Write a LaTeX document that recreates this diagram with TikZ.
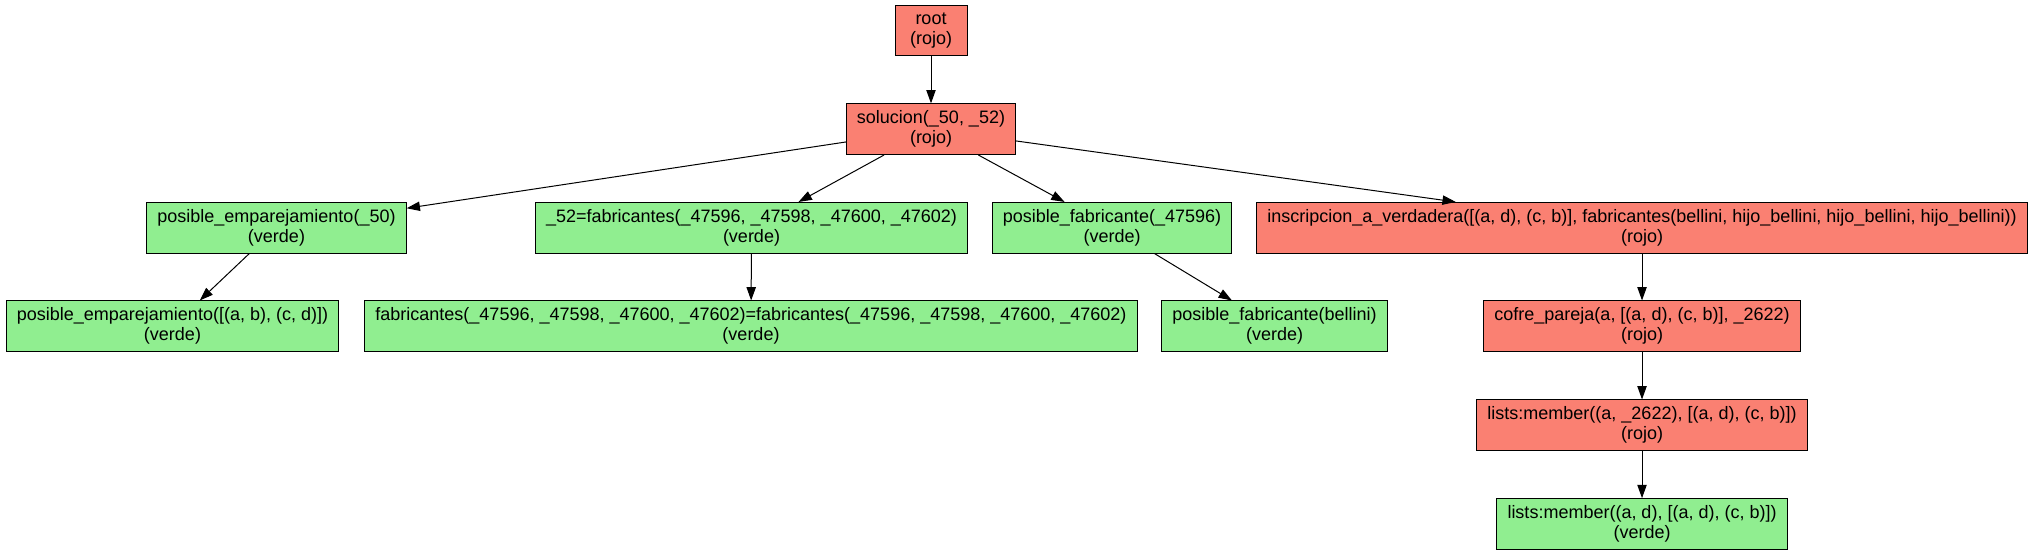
\documentclass[tikz,border=0pt]{standalone}
\usepackage{fontspec}
\setmainfont{Liberation Sans}
\usepackage{xcolor}
\usepackage{tikz}
\usetikzlibrary{arrows.meta}
\definecolor{rojosalmon}{RGB}{250,128,114}
\definecolor{verdeluz}{RGB}{144,238,144}
\tikzset{
  caja/.style={rectangle,draw=black,line width=0.75pt,minimum width=54pt,
    minimum height=38pt,inner xsep=7.9pt,inner ysep=2pt,align=center,
    font=\fontsize{13.5}{15}\selectfont},
  rojo/.style={caja,fill=rojosalmon},
  verde/.style={caja,fill=verdeluz},
  flecha/.style={-{Triangle[length=10pt,width=7pt]},line width=0.75pt,black}
}
\begin{document}
\begin{tikzpicture}[x=0.75pt,y=-0.75pt]
\useasboundingbox (0,0) rectangle (2033,555);
% nivel 0 y 1
\node[rojo] (raiz) at (931,30.5) {root\\(rojo)};
\node[rojo] (solucion) at (931,129.2) {solucion(\_50, \_52)\\(rojo)};
% nivel 2
\node[verde] (posemp) at (276.5,227.8) {posible\_emparejamiento(\_50)\\(verde)};
\node[verde] (fab) at (751.5,227.8) {\_52=fabricantes(\_47596, \_47598, \_47600, \_47602)\\(verde)};
\node[verde] (posfab) at (1112,227.8) {posible\_fabricante(\_47596)\\(verde)};
\node[rojo] (inscr) at (1642,227.8) {inscripcion\_a\_verdadera([(a, d), (c, b)], fabricantes(bellini, hijo\_bellini, hijo\_bellini, hijo\_bellini))\\(rojo)};
% nivel 3
\node[verde] (posempab) at (172.5,326.3) {posible\_emparejamiento([(a, b), (c, d)])\\(verde)};
\node[verde] (fabigual) at (751,326.3) {fabricantes(\_47596, \_47598, \_47600, \_47602)=fabricantes(\_47596, \_47598, \_47600, \_47602)\\(verde)};
\node[verde] (posfabbel) at (1274.5,326.3) {posible\_fabricante(bellini)\\(verde)};
\node[rojo] (cofre) at (1642,326.3) {cofre\_pareja(a, [(a, d), (c, b)], \_2622)\\(rojo)};
% niveles 4 y 5
\node[rojo] (miembro) at (1642,425.3) {lists:member((a, \_2622), [(a, d), (c, b)])\\(rojo)};
\node[verde] (miembrook) at (1642,524) {lists:member((a, d), [(a, d), (c, b)])\\(verde)};
% aristas
\draw[flecha] (raiz) -- (solucion);
\draw[flecha] (solucion) -- (posemp);
\draw[flecha] (solucion) -- (fab);
\draw[flecha] (solucion) -- (posfab);
\draw[flecha] (solucion) -- (inscr);
\draw[flecha] (posemp) -- (posempab);
\draw[flecha] (fab) -- (fabigual);
\draw[flecha] (posfab) -- (posfabbel);
\draw[flecha] (inscr) -- (cofre);
\draw[flecha] (cofre) -- (miembro);
\draw[flecha] (miembro) -- (miembrook);
\end{tikzpicture}
\end{document}
